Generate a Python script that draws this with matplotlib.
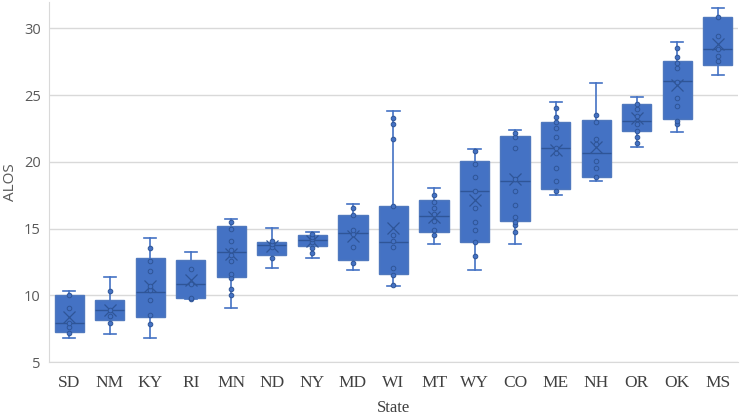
import matplotlib
matplotlib.use("Agg")
import matplotlib.pyplot as plt

states = ["SD", "NM", "KY", "RI", "MN", "ND", "NY", "MD", "WI", "MT", "WY", "CO", "ME", "NH", "OR", "OK", "MS"]

whisker_low = [6.83, 7.10, 6.83, 9.75, 9.03, 12.02, 12.82, 11.92, 10.73, 13.85, 11.90, 13.85, 17.54, 18.53, 21.13, 22.23, 26.52]
q1 = [7.28, 8.16, 8.35, 9.78, 11.38, 13.02, 13.73, 12.62, 11.62, 14.74, 14.00, 15.60, 17.99, 18.86, 22.33, 23.20, 27.27]
median = [7.93, 8.93, 10.27, 10.83, 13.26, 13.74, 14.17, 14.67, 14.00, 15.94, 17.84, 18.60, 21.03, 20.66, 23.08, 26.07, 28.44]
q3 = [10.00, 9.66, 12.77, 12.63, 15.20, 14.02, 14.50, 16.04, 16.67, 17.16, 20.03, 21.93, 23.02, 23.15, 24.33, 27.57, 30.86]
whisker_high = [10.30, 11.40, 14.30, 13.22, 15.70, 15.01, 14.72, 16.84, 23.82, 18.01, 21.00, 22.40, 24.52, 25.94, 24.85, 29.01, 31.56]
mean = [8.40, 8.93, 10.70, 11.17, 13.10, 13.67, 14.10, 14.42, 15.04, 15.90, 17.16, 18.70, 20.90, 21.15, 23.28, 25.77, 28.82]

points = {
    "SD": [7.20, 7.66, 7.93, 9.03, 10.00],
    "NM": [7.90, 8.43, 8.93, 10.30],
    "KY": [7.83, 8.50, 9.63, 10.40, 10.68, 11.83, 12.55, 13.52],
    "RI": [9.75, 9.80, 10.83, 12.00],
    "MN": [10.00, 10.50, 11.30, 11.60, 12.55, 13.05, 13.42, 14.04, 14.97, 15.52],
    "ND": [12.82, 13.65, 13.85, 14.05],
    "NY": [13.15, 13.55, 14.00, 14.20, 14.37, 14.60],
    "MD": [12.45, 13.64, 14.60, 14.87, 16.04, 16.54],
    "WI": [10.80, 11.50, 12.05, 13.62, 14.04, 14.54, 16.67, 21.73, 22.85, 23.28],
    "MT": [14.54, 14.87, 15.54, 16.10, 16.51, 17.01, 17.54],
    "WY": [12.92, 14.00, 14.92, 15.52, 16.51, 17.84, 18.83, 19.83, 20.83],
    "CO": [14.72, 15.24, 15.49, 15.84, 16.74, 17.84, 18.70, 21.03, 21.83, 22.15],
    "ME": [17.84, 18.53, 19.51, 20.66, 21.03, 21.83, 22.53, 23.02, 23.35, 24.02],
    "NH": [18.83, 19.54, 20.03, 21.35, 21.73, 23.02, 23.52],
    "OR": [21.43, 21.86, 22.35, 22.85, 23.45, 23.95, 24.35],
    "OK": [22.83, 23.10, 24.22, 24.82, 26.02, 27.04, 27.44, 27.84, 28.56],
    "MS": [27.54, 27.94, 28.44, 29.44, 30.88],
}

y_ticks = [5, 10, 15, 20, 25, 30]

BLUE = "#4472C4"
DARK = "#2F5597"
EDGE = "#4F78BE"

fig = plt.figure(figsize=(7.4, 4.16), dpi=100)
ax = fig.add_axes([0.0662, 0.1298, 0.9311, 0.8659])

stats = []
for i, s in enumerate(states):
    stats.append(dict(label=s, whislo=whisker_low[i], q1=q1[i], med=median[i],
                      q3=q3[i], whishi=whisker_high[i], mean=mean[i], fliers=[]))

positions = list(range(len(states)))
ax.bxp(stats, positions=positions, widths=0.72, patch_artist=True,
       showmeans=True, showfliers=False,
       boxprops=dict(facecolor=BLUE, edgecolor=EDGE, linewidth=1.0),
       medianprops=dict(color=DARK, linewidth=1.0),
       whiskerprops=dict(color=BLUE, linewidth=1.2),
       capprops=dict(color=BLUE, linewidth=1.2),
       capwidths=0.3,
       meanprops=dict(marker="x", markeredgecolor=DARK, markerfacecolor="none",
                      markersize=8, markeredgewidth=0.9),
       zorder=2)

for i, s in enumerate(states):
    vals = points[s]
    ax.scatter([positions[i]] * len(vals), vals, s=11, facecolor=BLUE,
               edgecolor=DARK, linewidth=0.7, zorder=3)

ax.set_xlim(-0.5, len(states) - 0.5)
ax.set_ylim(5, 32)
ax.set_yticks(y_ticks)
ax.set_xticks(positions)
ax.set_xticklabels(states, family="Liberation Serif", fontsize=12.5, color="#404040")
for lab in ax.get_yticklabels():
    lab.set_family("Open Sans")
    lab.set_fontsize(10.5)
    lab.set_color("#595959")
ax.tick_params(axis="both", length=0)
ax.tick_params(axis="x", pad=9)
ax.tick_params(axis="y", pad=6)

ax.grid(axis="y", color="#D9D9D9", linewidth=1.0, zorder=0)
ax.set_axisbelow(True)
for side in ["top", "right"]:
    ax.spines[side].set_visible(False)
ax.spines["left"].set_color("#D9D9D9")
ax.spines["bottom"].set_color("#D9D9D9")

ax.set_xlabel("State", family="Liberation Serif", fontsize=12, color="#404040", labelpad=7)
ax.set_ylabel("ALOS", family="Open Sans", fontsize=11, color="#595959")
ax.yaxis.label.set_va("center")
ax.yaxis.set_label_coords(-0.056, 0.5)

fig.savefig("out.png", dpi=100)
